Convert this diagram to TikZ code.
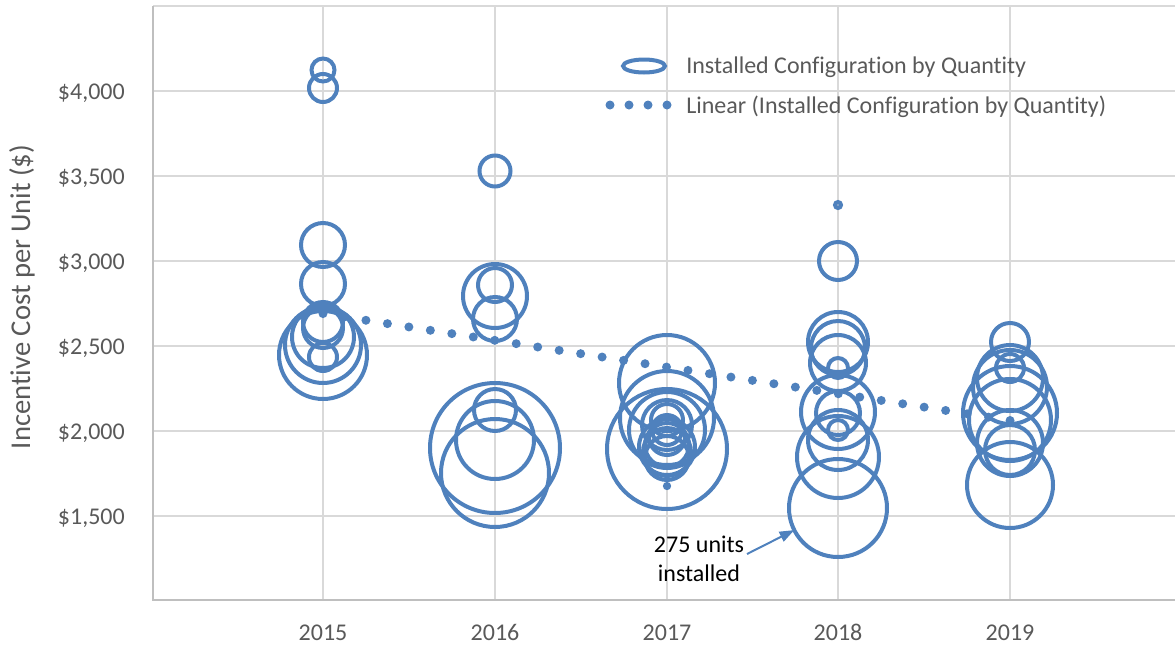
\documentclass[tikz,border=0pt]{standalone}
\usepackage{fontspec}
\setmainfont{Carlito}[Ligatures={NoCommon,NoContextual}]
\usetikzlibrary{arrows.meta}
\definecolor{bblue}{HTML}{4F81BD}
\definecolor{gridc}{HTML}{D9D9D9}
\definecolor{axisc}{HTML}{BFBFBF}
\definecolor{txtg}{HTML}{595959}
\begin{document}
\begin{tikzpicture}[x=0.75pt,y=-0.75pt,
  bub/.style={circle,draw=bblue,line width=3pt,inner sep=0pt,outer sep=0pt,minimum size=#1*1.5pt},
  gridl/.style={draw=gridc,line width=1.5pt},
  lab/.style={text=txtg,inner sep=0pt,font=\fontsize{18}{21.75}\selectfont},
  trenddot/.style={fill=bblue},
]
\useasboundingbox (0,0) rectangle (1175,644);
% grid
\foreach \yy in {6,91,176,261,346,431,516} \draw[gridl] (153,\yy) -- (1175,\yy);
\foreach \xx in {323,495,667,838,1010} \draw[gridl] (\xx,6) -- (\xx,600);
\draw[axisc,line width=1.5pt] (153,6) -- (153,600) -- (1175,600);
% tick labels
\node[lab,anchor=base east] (t4000) at (125,99) {\$4,000};
\node[lab,anchor=base east] (t3500) at (125,184) {\$3,500};
\node[lab,anchor=base east] (t3000) at (125,269) {\$3,000};
\node[lab,anchor=base east] (t2500) at (125,354) {\$2,500};
\node[lab,anchor=base east] (t2000) at (125,439) {\$2,000};
\node[lab,anchor=base east] (t1500) at (125,524) {\$1,500};
\node[lab,anchor=base] (y2015) at (323,640) {2015};
\node[lab,anchor=base] (y2016) at (495,640) {2016};
\node[lab,anchor=base] (y2017) at (667,640) {2017};
\node[lab,anchor=base] (y2018) at (838,640) {2018};
\node[lab,anchor=base] (y2019) at (1010,640) {2019};
\node[lab,rotate=90,font=\fontsize{21.5}{24}\selectfont] (ytitle) at (22,297) {Incentive Cost per Unit (\$)};
% bubbles 2015
\node[bub=11.5] (a1) at (323,70) {};
\node[bub=14] (a2) at (323,88) {};
\node[bub=22] (a3) at (323,245) {};
\node[bub=22] (a4) at (323,284) {};
\node[bub=44] (a5) at (323,355) {};
\node[bub=38] (a6) at (323,345) {};
\node[bub=31] (a7) at (323,337) {};
\node[bub=20] (a8) at (323,328) {};
\node[bub=20] (a9) at (323,322) {};
\node[bub=14] (a10) at (323,357) {};
% bubbles 2016
\node[bub=15.5] (b1) at (495,171) {};
\node[bub=32] (b2) at (495,296) {};
\node[bub=17] (b3) at (495,285) {};
\node[bub=22] (b4) at (495,319) {};
\node[bub=65] (b5) at (495,448) {};
\node[bub=21] (b6) at (495,410) {};
\node[bub=39] (b7) at (495,440) {};
\node[bub=54] (b8) at (495,473) {};
% bubbles 2017
\node[bub=48] (c1) at (667,383) {};
\node[bub=47] (c2) at (667,418) {};
\node[bub=60] (c3) at (667,449) {};
\node[bub=38] (c4) at (667,430) {};
\node[bub=25] (c5) at (667,425) {};
\node[bub=16] (c6) at (667,420) {};
\node[bub=15] (c7) at (667,430) {};
\node[bub=18] (c8) at (667,437) {};
\node[bub=22] (c9) at (667,445) {};
\node[bub=24] (c10) at (667,452) {};
\node[bub=28] (c11) at (667,447) {};
\node[bub=22] (c12) at (667,458) {};
\node[bub=2] (c13) at (667,486) {};
% bubbles 2018
\node[bub=3] (d1) at (838,205) {};
\node[bub=19] (d2) at (838,261) {};
\node[bub=30] (d3) at (838,342) {};
\node[bub=27] (d4) at (838,348) {};
\node[bub=28] (d5) at (838,363) {};
\node[bub=10] (d6) at (838,368) {};
\node[bub=37] (d7) at (838,412) {};
\node[bub=22] (d8) at (838,413) {};
\node[bub=10] (d9) at (838,430) {};
\node[bub=30] (d10) at (838,440) {};
\node[bub=41] (d11) at (838,457) {};
\node[bub=49] (d12) at (838,508) {};
% bubbles 2019
\node[bub=19] (e1) at (1010,342) {};
\node[bub=14] (e2) at (1010,368) {};
\node[bub=33] (e3) at (1010,378) {};
\node[bub=37] (e4) at (1010,387) {};
\node[bub=47] (e5) at (1010,413) {};
\node[bub=41] (e6) at (1010,420) {};
\node[bub=33] (e7) at (1010,443) {};
\node[bub=25] (e8) at (1010,450) {};
\node[bub=43] (e9) at (1010,485) {};
% trend line
\foreach \i in {0,...,32} \fill[trenddot] (323+\i*21.47,313.6+\i*3.34) circle (4.5);
% legend
\draw[bblue,line width=3pt] (644,66) ellipse (21 and 6.5);
\node[lab,anchor=base west] (leg1) at (686,73) {Installed Configuration by Quantity};
\foreach \xx in {610,629,648,667} \fill[trenddot] (\xx,105) circle (4.5);
\node[lab,anchor=base west] (leg2) at (686,113) {Linear (Installed Configuration by Quantity)};
% annotation
\node[inner sep=0pt,align=center,font=\fontsize{18}{21.75}\selectfont] (ann) at (699,559) {275 units\\installed};
\coordinate (annarr) at (747,554);
\draw[bblue,line width=1.5pt,-{Triangle[length=11pt,width=8pt]}] (annarr) -- (d12);
\end{tikzpicture}
\end{document}
